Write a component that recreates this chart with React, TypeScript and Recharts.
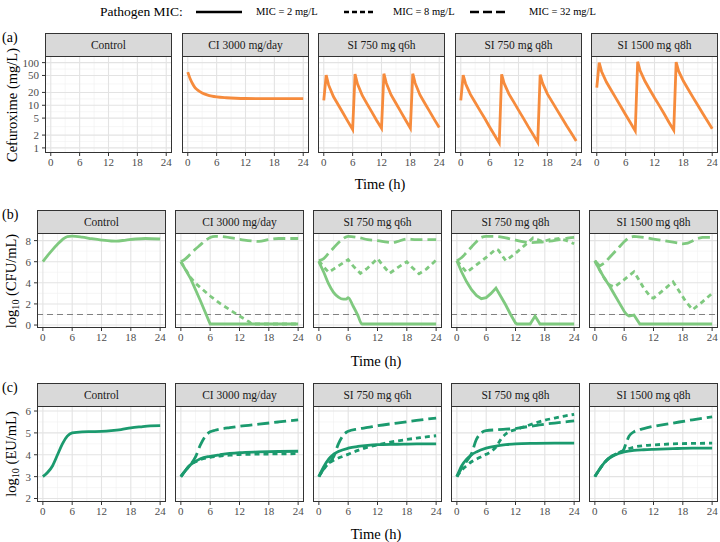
import React from 'react';
import { LineChart, Line, XAxis, YAxis, CartesianGrid, ReferenceLine } from 'recharts';

type Pt = [number, number];

const FONT = "'Liberation Serif', 'Times New Roman', serif";

const panelNames = ['Control', 'CI 3000 mg/day', 'SI 750 mg q6h', 'SI 750 mg q8h', 'SI 1500 mg q8h'];
const micLabels = ['MIC = 2 mg/L', 'MIC = 8 mg/L', 'MIC = 32 mg/L'];
const timeTicks = [0, 6, 12, 18, 24];
const timeMinor = [3, 9, 15, 21];
const concTicks = [1, 2, 5, 10, 20, 50, 100];
const concMinor = [1.41, 3.16, 7.07, 14.1, 31.6, 70.7];
const cfuTicks = [0, 2, 4, 6, 8];
const cfuMinor = [1, 3, 5, 7];
const euTicks = [2, 3, 4, 5, 6];
const euMinor = [2.5, 3.5, 4.5, 5.5];

// (a) cefuroxime concentration, mg/L
const concCI: Pt[] = [[0, 60], [0.5, 42], [1, 32], [1.5, 26], [2, 23], [3, 19.5], [4, 17.6], [5, 16.4], [6, 15.7], [8, 15], [10, 14.6], [12, 14.4], [16, 14.3], [20, 14.3], [24, 14.3]];
const concQ6h: Pt[] = [[0, 13], [0.5, 51], [1, 30], [2, 16], [3, 10.3], [4, 6.6], [5, 4.2], [6, 2.7], [6.5, 54], [7, 32], [8, 17], [9, 10.8], [10, 6.9], [11, 4.4], [12, 2.9], [12.5, 55], [13, 33], [14, 17.5], [15, 11.2], [16, 7.1], [17, 4.5], [18, 2.9], [18.5, 55], [19, 33], [20, 17.5], [21, 11.2], [22, 7.2], [23, 4.6], [24, 3.0]];
const concQ8h: Pt[] = [[0, 13], [0.5, 51], [1, 32], [2, 18], [3, 11.6], [4, 7.5], [5, 4.9], [6, 3.1], [7, 2.0], [8, 1.3], [8.5, 53], [9, 33], [10, 18.5], [11, 12], [12, 7.7], [13, 5], [14, 3.2], [15, 2.1], [16, 1.35], [16.5, 52], [17, 33], [18, 18.5], [19, 12], [20, 7.8], [21, 5.1], [22, 3.3], [23, 2.2], [24, 1.45]];
const conc1500: Pt[] = [[0, 26], [0.5, 100], [1, 62], [2, 35], [3, 22.5], [4, 14.5], [5, 9.4], [6, 6], [7, 3.9], [8, 2.5], [8.5, 105], [9, 65], [10, 37], [11, 23.5], [12, 15], [13, 9.8], [14, 6.3], [15, 4], [16, 2.6], [16.5, 103], [17, 64], [18, 37], [19, 23.8], [20, 15.3], [21, 10], [22, 6.5], [23, 4.3], [24, 2.8]];

// (b) log10 CFU/mL
const cfuControl: Pt[] = [[0, 6.0], [1, 6.6], [2, 7.15], [3, 7.65], [4, 8.1], [5, 8.38], [6, 8.42], [8, 8.33], [10, 8.18], [12, 8.05], [14, 7.96], [15, 7.95], [17, 8.05], [19, 8.15], [21, 8.2], [24, 8.15]];
const cfuCI2: Pt[] = [[0, 6.0], [2, 4.4], [4, 2.3], [6, 0.1], [24, 0.1]];
const cfuCI8: Pt[] = [[0, 6.0], [2, 4.5], [3, 3.95], [4, 3.55], [6, 2.75], [8, 2.05], [10, 1.45], [12, 0.85], [14, 0.3], [14.5, 0.1], [24, 0.1]];
const cfuCI32: Pt[] = [[0, 6.0], [1, 6.3], [2, 6.75], [3, 7.2], [4, 7.6], [5, 8.0], [6, 8.3], [7, 8.4], [9, 8.35], [11, 8.2], [13, 8.05], [15, 7.95], [16, 7.92], [18, 8.1], [20, 8.2], [22, 8.2], [24, 8.2]];
const cfuQ6h2: Pt[] = [[0, 6.0], [1, 5.0], [2, 3.9], [3, 3.1], [4, 2.65], [5, 2.45], [5.6, 2.45], [6, 2.6], [7, 1.8], [8, 0.9], [8.8, 0.1], [24, 0.1]];
const cfuQ6h8: Pt[] = [[0, 6.1], [1, 5.5], [2, 5.0], [3, 5.3], [4, 5.6], [5, 5.9], [6, 6.2], [7, 5.6], [8.5, 4.9], [10, 5.4], [12, 6.3], [13, 5.7], [14.5, 4.9], [16, 5.4], [18, 6.0], [19, 5.5], [20.5, 4.85], [22, 5.3], [24, 6.15]];
const cfuQ6h32: Pt[] = [[0, 6.1], [1, 6.3], [2, 6.8], [3, 7.3], [4, 7.8], [5, 8.2], [6, 8.4], [8, 8.3], [10, 8.1], [12, 8.0], [14, 7.85], [15, 7.8], [16, 7.9], [18, 8.15], [20, 8.1], [22, 8.1], [24, 8.1]];
const cfuQ8h2: Pt[] = [[0, 6.1], [1, 5.0], [2, 4.1], [3, 3.35], [4, 2.8], [5, 2.5], [6, 2.6], [7, 3.0], [8, 3.5], [9, 2.7], [10, 1.9], [11, 1.0], [12, 0.2], [12.3, 0.1], [15, 0.1], [16, 0.85], [17, 0.1], [24, 0.1]];
const cfuQ8h8: Pt[] = [[0, 6.1], [2, 5.0], [4, 5.7], [6, 6.4], [8, 7.2], [8.5, 7.1], [10, 6.1], [12, 6.8], [14, 7.6], [15.6, 8.25], [16.5, 8.1], [17.5, 7.9], [19, 8.1], [21, 8.2], [22.5, 8.0], [24, 7.7]];
const cfuQ8h32: Pt[] = [[0, 6.1], [1, 6.4], [2, 6.9], [3, 7.4], [4, 7.9], [5, 8.3], [6, 8.4], [8, 8.4], [10, 8.25], [12, 8.05], [14, 7.85], [15, 7.8], [17, 7.85], [19, 7.95], [21, 8.1], [23, 8.25], [24, 8.3]];
const cfu1500_2: Pt[] = [[0, 6.05], [1, 5.2], [2, 4.4], [3, 3.7], [4, 2.9], [5, 2.1], [6, 1.3], [6.5, 1.0], [7, 0.85], [8, 0.95], [9.2, 0.1], [24, 0.1]];
const cfu1500_8: Pt[] = [[0, 6.1], [1, 5.2], [2, 4.4], [3, 3.8], [4, 3.6], [6, 4.3], [8, 5.05], [9, 4.3], [10, 3.5], [11.5, 2.6], [12, 2.55], [14, 3.3], [16, 4.1], [17, 3.4], [18.5, 2.3], [20, 1.45], [22, 2.2], [24, 3.0]];
const cfu1500_32: Pt[] = [[0, 6.1], [1, 5.6], [2, 5.9], [3, 6.4], [4, 6.9], [5, 7.4], [6, 7.9], [7, 8.3], [8, 8.4], [10, 8.3], [12, 8.15], [14, 8.0], [16, 7.85], [18, 7.7], [19, 7.75], [21, 8.2], [22, 8.3], [24, 8.3]];

// (c) log10 EU/mL
const euControl: Pt[] = [[0, 3.0], [1, 3.2], [2, 3.5], [3, 4.0], [4, 4.5], [5, 4.85], [6, 5.0], [8, 5.05], [10, 5.06], [12, 5.07], [14, 5.1], [16, 5.15], [18, 5.23], [20, 5.28], [22, 5.32], [24, 5.33]];
const euCI2: Pt[] = [[0, 3.0], [1, 3.3], [2, 3.55], [3, 3.7], [4, 3.82], [6, 3.93], [8, 4.0], [10, 4.06], [12, 4.1], [16, 4.13], [20, 4.15], [24, 4.16]];
const euCI8: Pt[] = [[0, 3.0], [1, 3.3], [2, 3.55], [3, 3.68], [4, 3.78], [6, 3.88], [8, 3.94], [10, 3.98], [12, 4.01], [16, 4.03], [20, 4.04], [24, 4.05]];
const euCI32: Pt[] = [[0, 3.0], [1, 3.3], [2, 3.55], [3, 3.9], [4, 4.45], [5, 4.85], [6, 5.05], [7, 5.12], [8, 5.17], [10, 5.24], [12, 5.3], [16, 5.4], [20, 5.5], [24, 5.6]];
const euQ6h2: Pt[] = [[0, 3.0], [1, 3.45], [2, 3.8], [3, 4.02], [4, 4.15], [6, 4.3], [8, 4.38], [10, 4.43], [12, 4.46], [16, 4.48], [20, 4.5], [24, 4.5]];
const euQ6h8: Pt[] = [[0, 3.0], [1, 3.35], [2, 3.6], [3, 3.75], [4, 3.85], [6, 4.02], [8, 4.2], [10, 4.35], [12, 4.45], [14, 4.55], [16, 4.63], [18, 4.7], [20, 4.76], [22, 4.82], [24, 4.87]];
const euQ6h32: Pt[] = [[0, 3.0], [1, 3.35], [2, 3.6], [3, 3.9], [4, 4.5], [5, 4.9], [6, 5.07], [8, 5.18], [10, 5.25], [12, 5.33], [16, 5.45], [20, 5.57], [24, 5.68]];
const euQ8h2: Pt[] = [[0, 3.0], [1, 3.5], [2, 3.8], [3, 4.0], [4, 4.13], [6, 4.3], [8, 4.4], [10, 4.46], [12, 4.5], [16, 4.52], [20, 4.53], [24, 4.53]];
const euQ8h8: Pt[] = [[0, 3.0], [1, 3.3], [2, 3.5], [3, 3.68], [4, 3.8], [6, 4.02], [7, 4.15], [8, 4.35], [9, 4.7], [10, 4.95], [11, 5.08], [12, 5.15], [14, 5.3], [16, 5.45], [18, 5.58], [20, 5.68], [22, 5.77], [24, 5.85]];
const euQ8h32: Pt[] = [[0, 3.0], [1, 3.4], [2, 3.7], [3, 4.05], [4, 4.7], [5, 5.0], [6, 5.1], [8, 5.14], [10, 5.17], [12, 5.2], [14, 5.27], [16, 5.33], [18, 5.4], [20, 5.45], [22, 5.5], [24, 5.55]];
const eu1500_2: Pt[] = [[0, 3.0], [1, 3.35], [2, 3.65], [3, 3.85], [4, 3.98], [6, 4.13], [8, 4.2], [10, 4.23], [12, 4.25], [16, 4.28], [20, 4.3], [24, 4.3]];
const eu1500_8: Pt[] = [[0, 3.0], [1, 3.35], [2, 3.65], [3, 3.87], [4, 4.0], [6, 4.2], [8, 4.35], [10, 4.42], [12, 4.45], [16, 4.5], [20, 4.52], [24, 4.53]];
const eu1500_32: Pt[] = [[0, 3.0], [1, 3.35], [2, 3.65], [3, 3.87], [4, 4.0], [5, 4.1], [5.8, 4.2], [6.5, 4.6], [7, 4.85], [8, 5.05], [9, 5.14], [10, 5.2], [12, 5.3], [16, 5.45], [20, 5.6], [24, 5.73]];

const DASHES = [undefined, '5 4', '12 5'];

type Series = { pts: Pt[]; mic: number; curve: 'linear' | 'monotone' };

const ROWS = [
  {
    tag: '(a)', title: <>Cefuroxime (mg/L)</>, color: '#f68b3c', log: true,
    domain: [0.76, 143], ticks: concTicks, minor: concMinor, hline: null as number | null,
    stripTop: 33, panelTop: 56, panelH: 97, left0: 45, step: 136.5, w: 127, timeX: 380, timeY: 184,
    series: [
      [],
      [{ pts: concCI, mic: 0, curve: 'monotone' }],
      [{ pts: concQ6h, mic: 0, curve: 'linear' }],
      [{ pts: concQ8h, mic: 0, curve: 'linear' }],
      [{ pts: conc1500, mic: 0, curve: 'linear' }],
    ] as Series[][],
  },
  {
    tag: '(b)', title: <>log<sub style={{ fontSize: '0.7em' }}>10</sub> (CFU/mL)</>, color: '#7fc97f', log: false,
    domain: [-0.28, 8.72], ticks: cfuTicks, minor: cfuMinor, hline: 1,
    stripTop: 209.5, panelTop: 233, panelH: 95, left0: 37, step: 138, w: 129, timeX: 376, timeY: 361,
    series: [
      [{ pts: cfuControl, mic: 0, curve: 'monotone' }],
      [{ pts: cfuCI2, mic: 0, curve: 'linear' }, { pts: cfuCI8, mic: 1, curve: 'linear' }, { pts: cfuCI32, mic: 2, curve: 'monotone' }],
      [{ pts: cfuQ6h2, mic: 0, curve: 'monotone' }, { pts: cfuQ6h8, mic: 1, curve: 'linear' }, { pts: cfuQ6h32, mic: 2, curve: 'monotone' }],
      [{ pts: cfuQ8h2, mic: 0, curve: 'linear' }, { pts: cfuQ8h8, mic: 1, curve: 'linear' }, { pts: cfuQ8h32, mic: 2, curve: 'monotone' }],
      [{ pts: cfu1500_2, mic: 0, curve: 'linear' }, { pts: cfu1500_8, mic: 1, curve: 'linear' }, { pts: cfu1500_32, mic: 2, curve: 'linear' }],
    ] as Series[][],
  },
  {
    tag: '(c)', title: <>log<sub style={{ fontSize: '0.7em' }}>10</sub> (EU/mL)</>, color: '#1b9a6e', log: false,
    domain: [1.84, 6.23], ticks: euTicks, minor: euMinor, hline: null as number | null,
    stripTop: 383, panelTop: 406, panelH: 96, left0: 37, step: 138, w: 129, timeX: 376, timeY: 534,
    series: [
      [{ pts: euControl, mic: 0, curve: 'monotone' }],
      [{ pts: euCI2, mic: 0, curve: 'monotone' }, { pts: euCI8, mic: 1, curve: 'monotone' }, { pts: euCI32, mic: 2, curve: 'monotone' }],
      [{ pts: euQ6h2, mic: 0, curve: 'monotone' }, { pts: euQ6h8, mic: 1, curve: 'monotone' }, { pts: euQ6h32, mic: 2, curve: 'monotone' }],
      [{ pts: euQ8h2, mic: 0, curve: 'monotone' }, { pts: euQ8h8, mic: 1, curve: 'monotone' }, { pts: euQ8h32, mic: 2, curve: 'monotone' }],
      [{ pts: eu1500_2, mic: 0, curve: 'monotone' }, { pts: eu1500_8, mic: 1, curve: 'monotone' }, { pts: eu1500_32, mic: 2, curve: 'monotone' }],
    ] as Series[][],
  },
];

const toRows = (pts: Pt[]) => pts.map(([t, v]) => ({ t, v }));

const tickStyle = { fontSize: 11, fill: '#4d4d4d', fontFamily: 'Liberation Serif', style: { fontFamily: FONT } };

function Panel({ row, col }: { row: number; col: number }) {
  const r = ROWS[row];
  const first = col === 0;
  const left = Math.round(r.left0 + col * r.step);
  const yw = first ? left : 0;
  const series = r.series[col];
  return (
    <>
      <div
        style={{
          position: 'absolute', left, top: r.stripTop, width: r.w, height: r.panelTop - r.stripTop + 1,
          boxSizing: 'border-box', background: '#d9d9d9', border: '1px solid #333', fontFamily: FONT,
          fontSize: 11.5, color: '#1a1a1a', textAlign: 'center', lineHeight: `${r.panelTop - r.stripTop - 1}px`,
        }}
      >
        {panelNames[col]}
      </div>
      <div style={{ position: 'absolute', left: left - yw, top: r.panelTop, fontFamily: FONT }}>
        <LineChart width={r.w + yw} height={r.panelH + 24} margin={{ top: 0, right: 0, bottom: 0, left: 0 }}>
          <CartesianGrid stroke="#f0f0f0" strokeWidth={0.6} horizontalValues={r.minor} verticalValues={timeMinor} syncWithTicks={false} />
          <CartesianGrid stroke="#e3e3e3" strokeWidth={1.1} horizontalValues={r.ticks} verticalValues={timeTicks} syncWithTicks={false} />
          <XAxis
            type="number" dataKey="t" domain={[-1.2, 25.2]} allowDataOverflow ticks={timeTicks} interval={0}
            height={24} axisLine={false} tickSize={3} tickLine={{ stroke: '#333' }} tick={tickStyle}
          />
          <YAxis
            type="number" dataKey="v" scale={r.log ? 'log' : 'linear'} domain={r.domain} allowDataOverflow
            ticks={r.ticks} interval={0} hide={!first} width={yw} axisLine={false} tickSize={3} tickMargin={3}
            tickLine={{ stroke: '#333' }} tick={tickStyle}
          />
          {r.hline !== null && (
            <ReferenceLine y={r.hline} stroke="#808080" strokeDasharray="6 4" strokeWidth={1} ifOverflow="extendDomain" />
          )}
          {series.map((s, i) => (
            <Line
              key={i}
              data={toRows(s.pts)}
              dataKey="v"
              type={s.curve}
              stroke={r.color}
              strokeWidth={2.8}
              strokeDasharray={DASHES[s.mic]}
              dot={false}
              activeDot={false}
              isAnimationActive={false}
            />
          ))}
        </LineChart>
      </div>
      <div
        style={{
          position: 'absolute', left, top: r.panelTop, width: r.w, height: r.panelH,
          boxSizing: 'border-box', border: '1px solid #333', pointerEvents: 'none',
        }}
      />
    </>
  );
}

function LegendKey({ dash, width }: { dash?: string; width: number }) {
  return (
    <svg width={width} height={6} style={{ display: 'block' }}>
      <line x1={0} y1={3} x2={width} y2={3} stroke="#000" strokeWidth={2.6} strokeDasharray={dash} />
    </svg>
  );
}

export default function App() {
  const legendItems = [
    { x: 196, w: 46, dash: undefined, tx: 256 },
    { x: 344, w: 30, dash: '5 3', tx: 393 },
    { x: 470, w: 35, dash: '9 4', tx: 529 },
  ];
  return (
    <div style={{ position: 'absolute', left: 0, top: 0, width: 720, height: 542, background: '#fff', fontFamily: FONT, color: '#000' }}>
      <div style={{ position: 'absolute', left: 100, top: 4, fontSize: 13.5, lineHeight: '16px' }}>Pathogen MIC:</div>
      {legendItems.map((it, i) => (
        <React.Fragment key={i}>
          <div style={{ position: 'absolute', left: it.x, top: 9 }}>
            <LegendKey dash={it.dash} width={it.w} />
          </div>
          <div style={{ position: 'absolute', left: it.tx, top: 5, fontSize: 10.5, lineHeight: '14px', whiteSpace: 'nowrap' }}>
            {micLabels[i]}
          </div>
        </React.Fragment>
      ))}
      {ROWS.map((r, ri) => (
        <React.Fragment key={ri}>
          <div style={{ position: 'absolute', left: 2, top: r.stripTop - 3, fontSize: 14, lineHeight: '16px' }}>{r.tag}</div>
          <div
            style={{
              position: 'absolute', left: 12, top: r.panelTop + r.panelH / 2, whiteSpace: 'nowrap', fontSize: 14.5,
              transform: 'translate(-50%, -50%) rotate(-90deg)',
            }}
          >
            {r.title}
          </div>
          {panelNames.map((_, ci) => (
            <Panel key={ci} row={ri} col={ci} />
          ))}
          <div
            style={{
              position: 'absolute', left: r.timeX, top: r.timeY, transform: 'translate(-50%, -50%)',
              fontSize: 14.5, whiteSpace: 'nowrap',
            }}
          >
            Time (h)
          </div>
        </React.Fragment>
      ))}
    </div>
  );
}
